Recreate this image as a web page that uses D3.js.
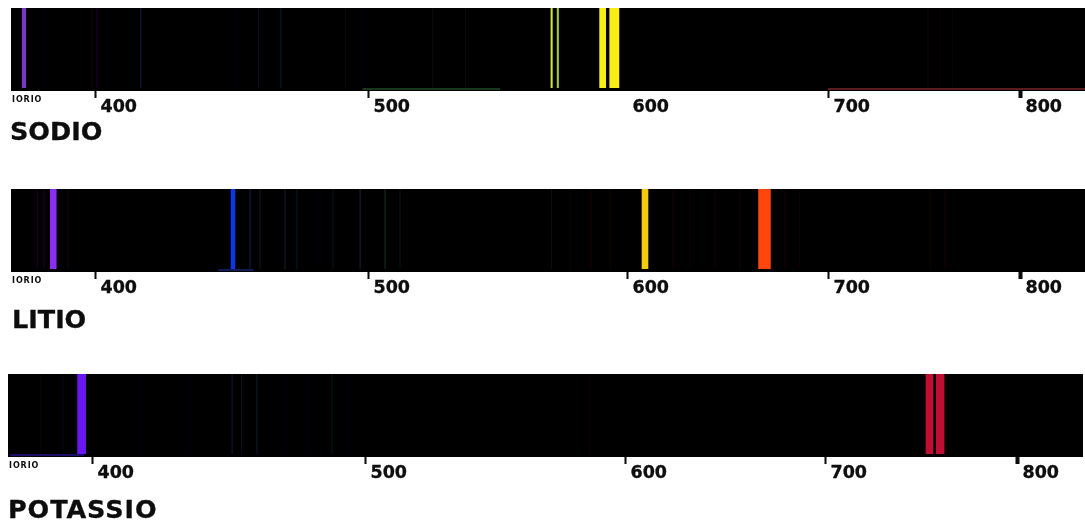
<!DOCTYPE html>
<meta charset="utf-8">
<script src="https://d3js.org/d3.v7.min.js"></script>
<style>
  body { margin: 0; background: #fff; }
  svg { display: block; }
  text { font-family: "DejaVu Sans", sans-serif; font-weight: bold; fill: #0a0a0a; stroke: #0a0a0a; stroke-width: 0.3px; }
</style>
<div id="chart"></div>
<script>
// wavelengths (nm)
var elements = ["SODIO", "LITIO", "POTASSIO"];
var scaleNm = [369.2, 400, 500, 600, 700, 800, 834];
var tickValues = [400, 500, 600, 700, 800];
var sideLabel = "IORIO";

// strong emission bands, [from, to] in nm
var sodioBands = [[373.2, 374.7], [570.5, 571.3], [572.9, 573.7], [589.3, 591.9], [593.2, 597.0]];
var litioBands = [[383.5, 385.9], [449.7, 451.4], [607.3, 610.6], [665.3, 671.5]];
var potassioBands = [[394.6, 397.8], [752.4, 756.4], [757.8, 762.2]];

// faint lines
var sodioFaint = [381.3, 398.9, 400.7, 416.8, 452, 460, 468.1, 482.4, 491.9, 497.8, 525, 537.8, 542.5, 555.6, 752, 758, 765];
var sodioFaintLevel = [.08, .14, .2, .34, .08, .26, .26, .08, .1, .1, .08, .08, .08, .06, .1, .08, .08];
var litioFaint = [378.8, 381.3, 390.1, 456.8, 460.4, 469.6, 474, 481.7, 487.2, 497.1, 506.6, 512.4, 551, 557.5, 570.7, 578, 586.1, 593.4, 622.9, 631.3, 643.8, 656.2, 678.6, 686, 753, 761];
var litioFaintLevel = [.2, .2, .15, .4, .25, .25, .2, .12, .15, .3, .33, .15, .06, .06, .08, .06, .08, .08, .14, .06, .06, .06, .08, .06, .1, .08];
var potassioFaint = [381, 389.4, 417.6, 435.9, 451.3, 454.9, 460.4, 471, 478.8, 487.9, 494.5, 505.8, 521.2, 563.5, 586.5];
var potassioFaintLevel = [.08, .1, .08, .08, .25, .2, .25, .1, .1, .14, .08, .08, .06, .06, .06];

// glow along the lower edge of each strip
var sodioGlow = [[498, 551, "#17391c"], [700, 834, "#5a1c1c"]];
var litioGlow = [[445, 458, "#0c1c58"]];
var potassioGlow = [[370, 397, "#1d0a68"]];

var bandColors = [
  ["#7b35c4", "#d2e23a", "#a4c832", "#f8ee14", "#f8ee14"],
  ["#8a2ff0", "#0a36e0", "#f5c90c", "#ff4610"],
  ["#6a18f2", "#c01030", "#c01030"]
];
var spectrum = d3.scaleLinear()
  .domain([380, 440, 490, 530, 580, 630, 760])
  .range(["#7a30e0", "#2830e0", "#3078a0", "#30a040", "#b09020", "#c05010", "#c02020"]);

var width = 1085, height = 525;

var panels = [
  {name: elements[0], bands: sodioBands, colors: bandColors[0], faint: sodioFaint, level: sodioFaintLevel, glow: sodioGlow,
   top: 8, bottom: 91, px: [11, 95, 368, 627, 828, 1020, 1085], nameX: 10, nameY: 140, nameSpacing: 0, noTick: [600]},
  {name: elements[1], bands: litioBands, colors: bandColors[1], faint: litioFaint, level: litioFaintLevel, glow: litioGlow,
   top: 189, bottom: 272, px: [11, 95, 368, 627, 828, 1020, 1085], nameX: 12, nameY: 328, nameSpacing: 0, noTick: []},
  {name: elements[2], bands: potassioBands, colors: bandColors[2], faint: potassioFaint, level: potassioFaintLevel, glow: potassioGlow,
   top: 374, bottom: 457, px: [8, 92, 365, 625, 825, 1017, 1083], nameX: 8, nameY: 518, nameSpacing: 0.9, noTick: []}
];

var svg = d3.select("#chart").append("svg")
  .attr("width", width)
  .attr("height", height);

// the reference is a soft jpeg
svg.append("filter").attr("id", "soft")
  .append("feGaussianBlur").attr("stdDeviation", 0.45);

var root = svg.append("g").attr("filter", "url(#soft)");

panels.forEach(function(p) {
  var x = d3.scaleLinear().domain(scaleNm).range(p.px);
  var g = root.append("g");

  // black strip
  g.append("rect")
    .attr("x", p.px[0])
    .attr("y", p.top)
    .attr("width", p.px[6] - p.px[0])
    .attr("height", p.bottom - p.top)
    .attr("fill", "#030102");

  // glow
  g.selectAll(".glow")
    .data(p.glow)
    .enter()
    .append("rect")
      .attr("x", function(d) { return x(d[0]); })
      .attr("y", p.bottom - 3)
      .attr("width", function(d) { return x(d[1]) - x(d[0]); })
      .attr("height", 2)
      .attr("fill", function(d) { return d[2]; });

  // faint lines
  g.selectAll(".faint")
    .data(p.faint)
    .enter()
    .append("line")
      .attr("x1", function(d) { return x(d); })
      .attr("x2", function(d) { return x(d); })
      .attr("y1", p.top)
      .attr("y2", p.bottom - 3)
      .attr("stroke", function(d) { return spectrum(d); })
      .attr("stroke-width", 1)
      .attr("stroke-opacity", function(d, i) { return p.level[i]; });

  // strong bands
  g.selectAll(".band")
    .data(p.bands)
    .enter()
    .append("rect")
      .attr("x", function(d) { return x(d[0]); })
      .attr("y", p.top)
      .attr("width", function(d) { return x(d[1]) - x(d[0]); })
      .attr("height", p.bottom - 3 - p.top)
      .attr("fill", function(d, i) { return p.colors[i]; });

  // axis
  var axis = g.append("g")
    .attr("transform", "translate(0," + p.bottom + ")")
    .call(d3.axisBottom(x).tickValues(tickValues).tickSize(7).tickPadding(6));
  axis.select(".domain").remove();
  axis.selectAll("line")
    .attr("stroke", "#0a0a0a")
    .attr("stroke-width", function(d) { return d === 800 ? 4 : 2; })
    .attr("opacity", function(d) { return p.noTick.indexOf(d) >= 0 ? 0 : 1; });
  axis.selectAll("text")
    .attr("text-anchor", "start")
    .attr("x", 5)
    .attr("y", 21)
    .attr("dy", 0)
    .style("font-size", "17.5px")
    .style("font-family", "'DejaVu Sans', sans-serif")
    .style("font-weight", "bold")
    .style("fill", "#0a0a0a");

  g.append("text")
    .attr("x", p.px[0] + 1)
    .attr("y", p.bottom + 11)
    .attr("letter-spacing", 0.9)
    .style("font-size", "8px")
    .style("stroke-width", 0)
    .text(sideLabel);

  g.append("text")
    .attr("x", p.nameX)
    .attr("y", p.nameY)
    .attr("letter-spacing", p.nameSpacing)
    .style("font-size", "25.5px")
    .text(p.name);
});
</script>
